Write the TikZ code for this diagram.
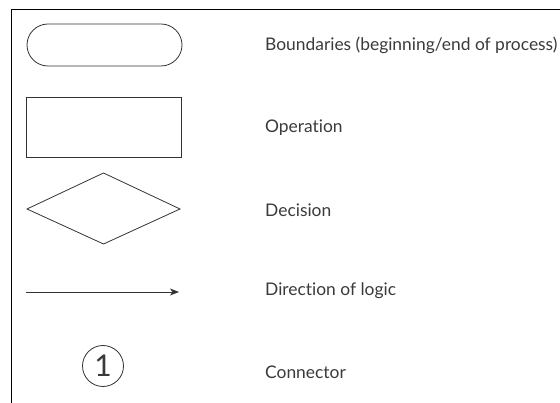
\documentclass[tikz,border=0pt]{standalone}
\usepackage{fontspec}
\setmainfont{Lato}[Ligatures={NoCommon,NoContextual}]
\usetikzlibrary{arrows.meta,shapes.misc}
\definecolor{txt}{HTML}{3A3A3A}
\definecolor{ln}{HTML}{333333}
\begin{document}
\begin{tikzpicture}[x=1pt,y=-1pt,
  shapeline/.style={draw=ln,line width=0.8pt},
  label/.style={anchor=west,text=txt,font=\fontsize{17.4}{19}\selectfont,inner sep=0pt},
  frame/.style={draw=black,line width=1.2pt}]
\useasboundingbox (0,0) rectangle (560,403);
\draw[frame] (11.7,403) -- (11.7,9.5) -- (560,9.5);
% terminal
\node[shapeline,rounded rectangle,minimum width=155pt,minimum height=42pt,inner sep=0pt] (term) at (104.5,45) {};
\node[label] (tterm) at (265,45) {Boundaries (beginning/end of process)};
% operation
\node[shapeline,rectangle,minimum width=155pt,minimum height=60pt,inner sep=0pt] (oper) at (103.5,127) {};
\node[label] (toper) at (265,128) {Operation};
% decision
\coordinate (dl) at (27,209);
\coordinate (dt) at (103.5,173);
\coordinate (dr) at (180,209);
\coordinate (db) at (103.5,244);
\draw[shapeline] (dl) -- (dt) -- (dr) -- (db) -- cycle;
\node[label] (tdec) at (265,210) {Decision};
% arrow
\coordinate (as) at (26,292);
\coordinate (ae) at (179,292);
\draw[draw=ln,line width=0.8pt,-{Stealth[length=9pt,width=7pt,inset=2.5pt]}] (as) -- (ae);
\node[label] (tdir) at (265,291) {Direction of logic};
% connector
\node[shapeline,circle,minimum size=41pt,inner sep=0pt,text=txt,font=\fontsize{30}{32}\selectfont] (conn) at (103,366) {1};
\node[label] (tconn) at (265,372) {Connector};
\end{tikzpicture}
\end{document}
